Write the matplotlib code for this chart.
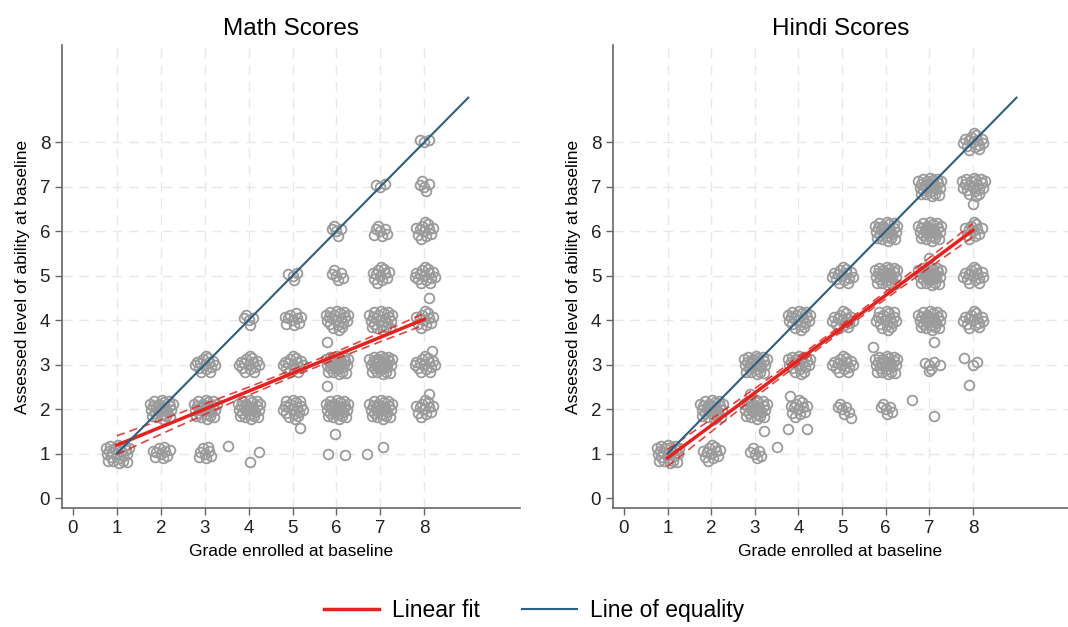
import numpy as np
import matplotlib
matplotlib.use('Agg')
import matplotlib.pyplot as plt
from matplotlib.lines import Line2D

plt.rcParams['font.family'] = ['Liberation Sans', 'DejaVu Sans']

grades = [1, 2, 3, 4, 5, 6, 7, 8]
levels = [1, 2, 3, 4, 5, 6, 7, 8]

# number of pupils per grade (rows) and assessed level (columns)
math_counts = [
    [22, 0, 0, 0, 0, 0, 0, 0],
    [10, 26, 0, 0, 0, 0, 0, 0],
    [8, 26, 15, 0, 0, 0, 0, 0],
    [0, 26, 15, 5, 0, 0, 0, 0],
    [0, 18, 15, 10, 4, 0, 0, 0],
    [0, 30, 30, 20, 6, 5, 0, 0],
    [0, 26, 30, 22, 12, 7, 3, 0],
    [0, 12, 15, 12, 15, 12, 5, 3],
]
hindi_counts = [
    [22, 0, 0, 0, 0, 0, 0, 0],
    [12, 26, 0, 0, 0, 0, 0, 0],
    [6, 25, 26, 0, 0, 0, 0, 0],
    [0, 12, 20, 20, 0, 0, 0, 0],
    [0, 6, 15, 15, 15, 0, 0, 0],
    [0, 6, 26, 18, 26, 26, 0, 0],
    [0, 0, 4, 26, 30, 26, 26, 0],
    [0, 0, 2, 15, 15, 12, 20, 15],
]

# hand-placed jitter offsets used inside each (grade, level) cluster
jitter_dx = [0.00, 0.10, -0.10, 0.04, -0.05, 0.15, -0.14, 0.08, -0.18, 0.20,
             0.02, -0.08, 0.13, -0.22, 0.24, -0.15, 0.18, 0.06, -0.25, 0.27,
             -0.20, 0.22, -0.03, 0.06, -0.07, 0.11, -0.12, 0.03, 0.16, -0.03]
jitter_dy = [0.00, 0.05, 0.04, -0.10, 0.12, -0.06, -0.08, 0.15, 0.06, 0.08,
             0.20, -0.17, -0.16, -0.02, -0.02, 0.18, 0.18, -0.22, 0.12, 0.12,
             -0.16, -0.18, 0.07, 0.03, -0.04, -0.02, 0.10, -0.05, 0.02, -0.08]

# isolated points away from the clusters
math_out_x = [3.53, 4.03, 4.24, 5.17, 5.97, 5.79, 5.79, 5.80, 6.20, 6.70, 7.06, 8.18, 8.10, 8.10]
math_out_y = [1.17, 0.81, 1.03, 1.57, 1.44, 2.52, 3.50, 0.99, 0.97, 1.00, 1.15, 3.30, 4.50, 2.35]
hindi_out_x = [3.20, 2.90, 3.50, 3.75, 4.20, 3.80, 5.20, 5.70, 6.60, 7.10, 7.10, 7.00, 7.25, 7.00, 7.90, 8.00, 7.80]
hindi_out_y = [1.50, 2.35, 1.15, 1.55, 1.55, 2.30, 1.80, 3.40, 2.20, 1.85, 3.50, 2.85, 3.00, 5.40, 2.55, 6.60, 3.15]

# linear fit end points and half width of the 95% band at each grade
fit_x = [1, 8]
math_fit = [1.19, 4.02]
hindi_fit = [0.90, 6.02]
math_ci = [0.21, 0.16, 0.12, 0.09, 0.08, 0.08, 0.10, 0.13]
hindi_ci = [0.19, 0.14, 0.10, 0.08, 0.07, 0.08, 0.11, 0.15]

equal_x = [1, 9]
equal_y = [1, 9]

RED = '#e4221f'
BLUE = '#2d5f80'
GREY = '#9b9b9b'


def cluster_points(counts):
    xs, ys = [], []
    for gi, row in enumerate(counts):
        for li, n in enumerate(row):
            for k in range(n):
                xs.append(grades[gi] + jitter_dx[k % len(jitter_dx)])
                ys.append(levels[li] + jitter_dy[k % len(jitter_dy)])
    return xs, ys


def draw_panel(ax, title, counts, out_x, out_y, fit_y, ci):
    xs, ys = cluster_points(counts)
    xs = xs + out_x
    ys = ys + out_y
    ax.plot(xs, ys, 'o', mfc='none', mec=GREY, ms=7, mew=1.3, zorder=2)

    g = np.array(grades)
    fy = np.interp(g, fit_x, fit_y)
    ax.plot(fit_x, fit_y, color=RED, lw=2.5, zorder=4)
    ax.plot(g, fy + np.array(ci), color=RED, lw=1.2, ls=(0, (5, 3)), alpha=0.85, zorder=3)
    ax.plot(g, fy - np.array(ci), color=RED, lw=1.2, ls=(0, (5, 3)), alpha=0.85, zorder=3)
    ax.plot(equal_x, equal_y, color=BLUE, lw=1.5, zorder=5)

    ax.set_xlim(-0.25, 10.18)
    ax.set_ylim(-0.22, 10.18)
    ax.set_xticks(range(0, 9))
    ax.set_yticks(range(0, 9))
    for v in range(1, 9):
        ax.axvline(v, color='#e8e8e8', lw=1, ls=(0, (7, 5)), zorder=0)
        ax.axhline(v, color='#e8e8e8', lw=1, ls=(0, (7, 5)), zorder=0)
    for s in ['top', 'right']:
        ax.spines[s].set_visible(False)
    for s in ['left', 'bottom']:
        ax.spines[s].set_color('#666666')
        ax.spines[s].set_linewidth(1.2)
    ax.tick_params(length=5, width=1, color='#666666', labelsize=13.5, labelcolor='#222222')
    ax.set_title(title, fontsize=17.5, pad=7)
    ax.set_xlabel('Grade enrolled at baseline', fontsize=12.5, labelpad=5)
    ax.set_ylabel('Assessed level of ability at baseline', fontsize=12.5, labelpad=7)


fig = plt.figure(figsize=(10.68, 6.27), dpi=100)
ax1 = fig.add_axes([0.058, 0.19, 0.429, 0.738])
ax2 = fig.add_axes([0.574, 0.19, 0.426, 0.738])

draw_panel(ax1, 'Math Scores', math_counts, math_out_x, math_out_y, math_fit, math_ci)
draw_panel(ax2, 'Hindi Scores', hindi_counts, hindi_out_x, hindi_out_y, hindi_fit, hindi_ci)

handles = [Line2D([], [], color=RED, lw=2.5), Line2D([], [], color=BLUE, lw=1.5)]
fig.legend(handles, ['Linear fit', 'Line of equality'], loc='center', bbox_to_anchor=(0.5, 0.027),
           ncol=2, frameon=False, fontsize=16.5, handlelength=2.4, handletextpad=0.6, columnspacing=1.8)

fig.savefig('out.png', dpi=100)
